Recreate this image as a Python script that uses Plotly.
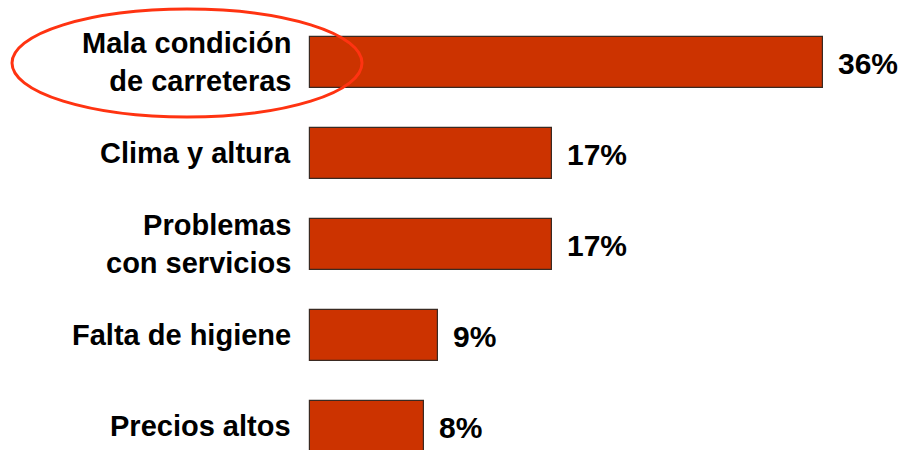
import plotly.graph_objects as go

categories = [
    "Mala condición<br>de carreteras",
    "Clima y altura",
    "Problemas<br>con servicios",
    "Falta de higiene",
    "Precios altos",
]
values = [36, 17, 17, 9, 8]
value_labels = ["36%", "17%", "17%", "9%", "8%"]

W, H = 904, 450
BAR_COLOR = "#CC3300"
FONT = "Arial, Liberation Sans, sans-serif"

# axis geometry (pixels per unit and row spacing)
x_origin_px, px_per_unit = 310, 14.24
row0_px, row_step_px = 62.5, 91.0

fig = go.Figure()
fig.add_trace(go.Bar(
    y=list(range(len(categories))),
    x=values,
    orientation="h",
    width=0.55,
    marker=dict(color=BAR_COLOR, line=dict(color="#3a2a22", width=1.2)),
    hoverinfo="skip",
))

annotations = []
for i, (cat, v, lab) in enumerate(zip(categories, values, value_labels)):
    annotations.append(dict(
        x=0, y=i, xref="x", yref="y", text=f"<b>{cat}</b>",
        xanchor="right", yanchor="middle", align="right", xshift=-17,
        yshift=1,
        showarrow=False, font=dict(family=FONT, size=29, color="#000000"),
    ))
    annotations.append(dict(
        x=v, y=i, xref="x", yref="y", text=f"<b>{lab}</b>",
        xanchor="left", yanchor="middle", xshift=13, yshift=-1,
        showarrow=False, font=dict(family=FONT, size=30, color="#000000"),
    ))

fig.update_layout(
    width=W, height=H,
    margin=dict(l=0, r=0, t=0, b=0),
    paper_bgcolor="white", plot_bgcolor="white",
    showlegend=False,
    bargap=0,
    xaxis=dict(
        range=[-x_origin_px / px_per_unit, (W - x_origin_px) / px_per_unit],
        visible=False, fixedrange=True,
    ),
    yaxis=dict(
        range=[(H - row0_px) / row_step_px, -row0_px / row_step_px],
        visible=False, fixedrange=True,
    ),
    annotations=annotations,
    shapes=[dict(
        type="circle", xref="paper", yref="paper",
        x0=12 / W, x1=362 / W, y0=1 - 117 / H, y1=1 - 9 / H,
        line=dict(color="#FF3311", width=3), fillcolor="rgba(0,0,0,0)",
        layer="above",
    )],
)

fig.write_html("out.html", config={"displayModeBar": False})
